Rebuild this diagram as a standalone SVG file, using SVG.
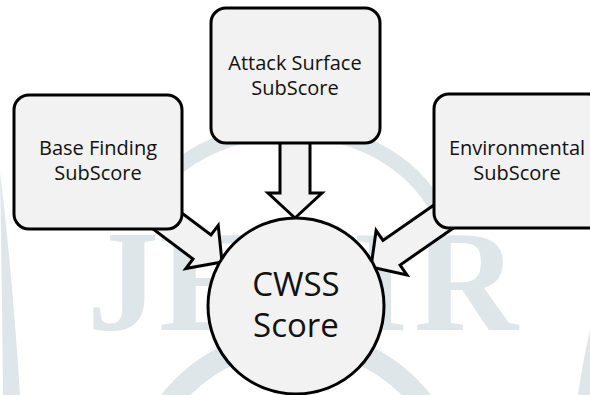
<svg xmlns="http://www.w3.org/2000/svg" width="590" height="395" viewBox="0 0 590 395">
  <defs>
    <style>
      .wm { fill: #dfe6ea; }
      .wm-letter { fill: #dfe6ea; font-family: "Liberation Serif", serif; font-weight: bold; font-size: 144px; }
      .wm-band { fill: none; stroke: #dfe6ea; }
      .box { fill: #f2f2f2; stroke: #000; stroke-width: 3; }
      .arrow { fill: #f2f2f2; stroke: #000; stroke-width: 3; stroke-linejoin: miter; }
      .lbl { font-family: "Open Sans", "Liberation Sans", sans-serif; font-size: 20px; fill: #111; text-anchor: middle; }
      .big { font-family: "Open Sans", "Liberation Sans", sans-serif; font-size: 33px; fill: #111; text-anchor: middle; }
    </style>
    <!-- block arrow pointing along +x, tip at the origin -->
    <path id="blockArrow" d="M0,0 L-25,-27 L-25,-15 L-110,-15 L-110,15 L-25,15 L-25,27 Z"/>
  </defs>

  <rect width="590" height="395" fill="#fff"/>

  <!-- faint background logo -->
  <g id="watermark">
    <path class="wm-band" stroke-width="15" d="M140,215 C195,100 395,100 445,225"/>
    <circle class="wm-band" stroke-width="22" cx="296" cy="500" r="160"/>
    <path class="wm" d="M0,172 Q12,270 20,395 L3,395 Q2,290 0,172 Z"/>
    <path class="wm" d="M590,330 Q583,360 578,395 L590,395 Z"/>
    <text class="wm-letter" x="87" y="330">J</text>
    <text class="wm-letter" x="159" y="330">E</text>
    <text class="wm-letter" x="352" y="330">I</text>
    <text class="wm-letter" x="414" y="330">R</text>
  </g>

  <!-- connectors -->
  <g id="connectors">
    <use href="#blockArrow" class="arrow" transform="translate(295,218) rotate(90)"/>
    <use href="#blockArrow" class="arrow" transform="translate(222,262) rotate(36.9)"/>
    <use href="#blockArrow" class="arrow" transform="translate(371,267) rotate(145.2)"/>
  </g>

  <g id="cwss-score">
    <circle class="box" cx="296" cy="306" r="88"/>
    <text class="big" x="296" y="296">CWSS</text>
    <text class="big" x="296" y="337">Score</text>
  </g>

  <g id="base-finding">
    <rect class="box" x="14" y="95" width="168" height="134" rx="15"/>
    <text class="lbl" x="98" y="155">Base Finding</text>
    <text class="lbl" x="98" y="180">SubScore</text>
  </g>

  <g id="attack-surface">
    <rect class="box" x="211" y="8" width="169" height="135" rx="15"/>
    <text class="lbl" x="295" y="70">Attack Surface</text>
    <text class="lbl" x="295" y="95">SubScore</text>
  </g>

  <g id="environmental">
    <rect class="box" x="434" y="94" width="169" height="134" rx="15"/>
    <text class="lbl" x="517" y="155">Environmental</text>
    <text class="lbl" x="517" y="180">SubScore</text>
  </g>
</svg>
